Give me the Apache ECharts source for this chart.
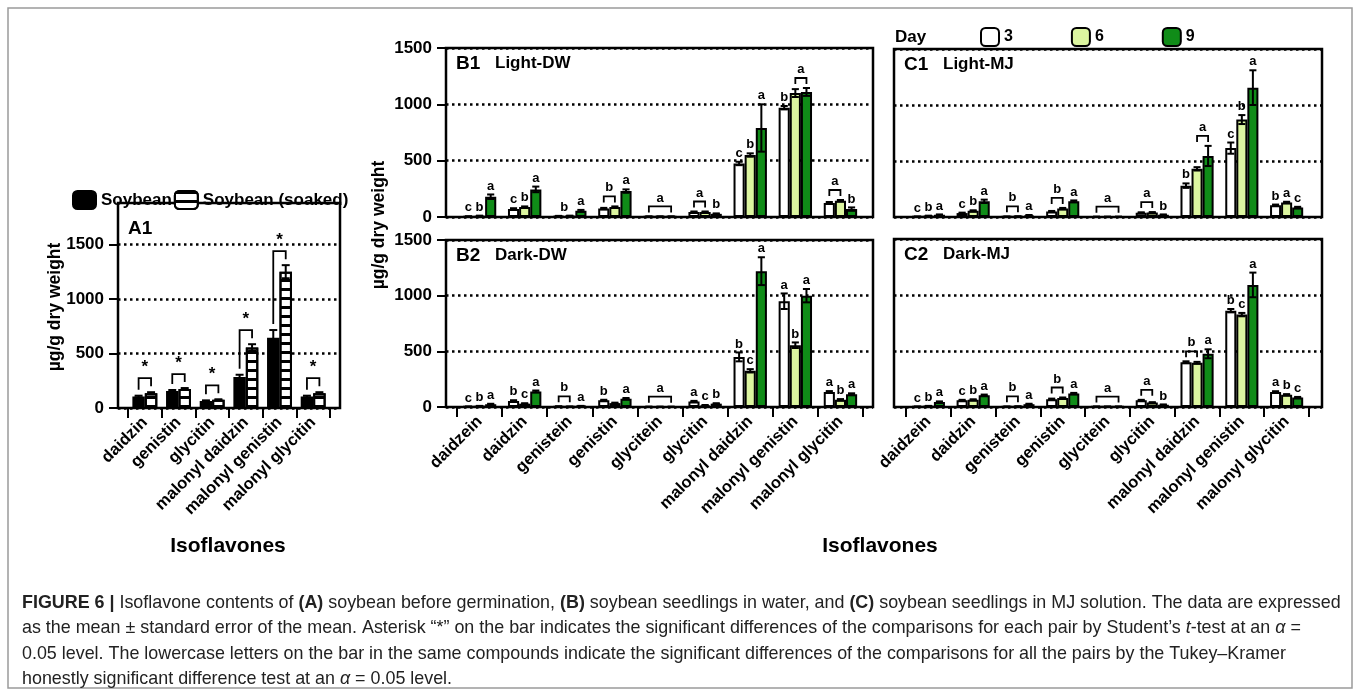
<!DOCTYPE html>
<html>
<head>
<meta charset="utf-8">
<script src="https://cdn.jsdelivr.net/npm/echarts@6/dist/echarts.min.js"></script>
<style>
  html, body { margin: 0; padding: 0; background: #fff; }
  #chart { width: 1360px; height: 695px; }
</style>
</head>
<body>
<div id="chart"></div>
<script>
// ---- data ----
var catsA = ['daidzin', 'genistin', 'glycitin', 'malonyl daidzin', 'malonyl genistin', 'malonyl glycitin'];
var soybean = [105, 155, 65, 285, 645, 105];
var soybeanErr = [8, 10, 5, 20, 70, 8];
var soaked = [135, 175, 75, 555, 1250, 135];
var soakedErr = [10, 8, 5, 30, 60, 10];
var sigA = [1, 1, 1, 1, 1, 1];

var catsB = ['daidzein', 'daidzin', 'genistein', 'genistin', 'glycitein', 'glycitin',
  'malonyl daidzin', 'malonyl genistin', 'malonyl glycitin'];
var days = ['3', '6', '9'];
var yTicks = [0, 500, 1000, 1500];

// B1 Light-DW
var b1Day3 = [5, 70, 8, 75, 4, 45, 475, 970, 125];
var b1Day6 = [10, 88, 10, 88, 4, 45, 550, 1100, 145];
var b1Day9 = [180, 245, 55, 230, 4, 28, 790, 1110, 70];
var b1Err3 = [1, 8, 2, 6, 1, 4, 15, 15, 8];
var b1Err6 = [2, 6, 2, 6, 1, 4, 15, 35, 6];
var b1Err9 = [20, 25, 8, 15, 1, 4, 210, 35, 15];
// B2 Dark-DW
var b2Day3 = [3, 55, 5, 60, 2, 50, 450, 950, 135];
var b2Day6 = [8, 30, 3, 35, 2, 15, 325, 555, 65];
var b2Day9 = [25, 140, 8, 75, 2, 30, 1220, 1000, 115];
var b2Err3 = [1, 6, 1, 5, 1, 5, 40, 70, 8];
var b2Err6 = [2, 4, 1, 4, 1, 3, 15, 25, 6];
var b2Err9 = [4, 8, 2, 6, 1, 4, 125, 60, 8];
// C1 Light-MJ
var c1Day3 = [3, 35, 3, 50, 2, 38, 280, 615, 105];
var c1Day6 = [10, 55, 5, 75, 2, 40, 430, 870, 130];
var c1Day9 = [20, 140, 15, 140, 2, 20, 545, 1155, 85];
var c1Err3 = [1, 4, 1, 4, 1, 4, 20, 50, 6];
var c1Err6 = [2, 5, 1, 6, 1, 4, 15, 40, 6];
var c1Err9 = [3, 15, 3, 8, 1, 3, 90, 155, 6];
// C2 Dark-MJ
var c2Day3 = [3, 60, 3, 70, 3, 60, 400, 860, 135];
var c2Day6 = [8, 65, 5, 80, 3, 40, 395, 825, 110];
var c2Day9 = [45, 105, 25, 120, 3, 20, 475, 1090, 85];
var c2Err3 = [1, 4, 1, 5, 1, 4, 8, 15, 6];
var c2Err6 = [2, 4, 1, 5, 1, 3, 8, 15, 5];
var c2Err9 = [5, 6, 4, 6, 1, 3, 40, 110, 5];

// Tukey letters per compound, one char per day; uppercase runs = bracketed group, '-' = none
var b1Letters = ['cba', 'cba', 'bba', 'BBa', 'AAA', 'AAb', 'cba', 'bAA', 'AAb'];
var b2Letters = ['cba', 'bca', 'BBa', 'b-a', 'AAA', 'acb', 'bca', 'aba', 'aba'];
var c1Letters = ['cba', 'cba', 'BBa', 'BBa', 'AAA', 'AAb', 'bAA', 'cba', 'bac'];
var c2Letters = ['cba', 'cba', 'BBa', 'BBa', 'AAA', 'AAb', 'BBa', 'bca', 'abc'];

// ---- chart ----
var FONT = "'Liberation Sans', Arial, sans-serif";
var GAP = 0.26;
var dayColors = ['#ffffff', '#dcf5a0', '#108c18'];
var dotted = { type: [2.5, 3.5], width: 2.5, color: '#000' };

var grid = [], xAxis = [], yAxis = [], series = [], graphic = [];

function parseLetters(codes) {
  var out = [];
  codes.forEach(function (code, cat) {
    var i = 0;
    while (i < code.length) {
      var ch = code[i], j = i;
      while (j + 1 < code.length && code[j + 1] === ch) j++;
      if (ch !== '-') {
        out.push({ cat: cat, from: i, to: j, text: ch.toLowerCase(), bracket: ch !== ch.toLowerCase() });
      }
      i = j + 1;
    }
  });
  return out;
}

function errRender(n) {
  return function (params, api) {
    var c = api.value(0), v = api.value(1), e = api.value(2), s = api.value(3);
    var bw = api.size([1, 0])[0] * (1 - GAP) / n;
    var cx = api.coord([c, 0])[0] + (s - (n - 1) / 2) * bw;
    var yHi = api.coord([c, v + e])[1];
    var yLo = api.coord([c, Math.max(v - e, 0)])[1];
    var cap = bw * 0.32;
    var st = { stroke: '#000', lineWidth: 2 };
    return {
      type: 'group', children: [
        { type: 'line', shape: { x1: cx, y1: yHi, x2: cx, y2: yLo }, style: st },
        { type: 'line', shape: { x1: cx - cap, y1: yHi, x2: cx + cap, y2: yHi }, style: st },
        { type: 'line', shape: { x1: cx - cap, y1: yLo, x2: cx + cap, y2: yLo }, style: st }
      ]
    };
  };
}

function annRender(vals, errs, anns, n, font, legsToBars) {
  return function (params, api) {
    var a = anns[params.dataIndex];
    var bw = api.size([1, 0])[0] * (1 - GAP) / n;
    var c0 = api.coord([a.cat, 0])[0];
    var bx = function (s) { return c0 + (s - (n - 1) / 2) * bw; };
    var top = function (s) { return api.coord([a.cat, vals[s][a.cat] + errs[s][a.cat]])[1]; };
    var yTop = Infinity;
    for (var s = a.from; s <= a.to; s++) yTop = Math.min(yTop, top(s));
    var x1 = bx(a.from), x2 = bx(a.to), ty = yTop - 2;
    var kids = [];
    if (a.bracket) {
      var by = yTop - (legsToBars ? 14 : 10);
      var l1 = legsToBars ? Math.max(top(a.from) - 6, by + 5) : by + 6;
      var l2 = legsToBars ? Math.max(top(a.to) - 6, by + 5) : by + 6;
      kids.push({ type: 'polyline', shape: { points: [[x1, l1], [x1, by], [x2, by], [x2, l2]] },
        style: { stroke: '#000', lineWidth: 1.8, fill: null } });
      ty = by - 2;
    }
    kids.push({
      type: 'text', x: (x1 + x2) / 2, y: ty,
      style: { text: a.text, font: font, fill: '#000', align: 'center', verticalAlign: 'bottom' }
    });
    return { type: 'group', children: kids };
  };
}

function addFrame(f, yMax, showY) {
  var gi = grid.length;
  grid.push({ left: f[0], top: f[1], width: f[2], height: f[3], show: true,
    borderColor: '#000', borderWidth: 2.5, backgroundColor: '#fff' });
  xAxis.push({ gridIndex: gi, type: 'value', show: false, min: 0, max: 1 });
  yAxis.push({
    gridIndex: gi, type: 'value', min: 0, max: yMax, interval: 500,
    axisLine: { show: false },
    axisTick: { show: showY, length: 9, lineStyle: { color: '#000', width: 2 }, customValues: yTicks },
    axisLabel: { show: showY, margin: 14, color: '#000', fontFamily: FONT, fontWeight: 'bold', fontSize: 17,
      customValues: yTicks, formatter: function (v) { return String(v); } },
    splitLine: { show: true, lineStyle: dotted }
  });
}

function addInner(f, inner, cats, yMax, showX) {
  var gi = grid.length;
  grid.push({ left: inner[0], top: f[1], width: inner[1], height: f[3] });
  xAxis.push({
    gridIndex: gi, type: 'category', data: cats,
    axisLine: { show: false, onZero: false },
    axisTick: { show: showX, length: 10, interval: 0, lineStyle: { color: '#000', width: 2 } },
    axisLabel: { show: showX, interval: 0, rotate: 45, margin: 12, color: '#000',
      fontFamily: FONT, fontWeight: 'bold', fontSize: 16.5 }
  });
  yAxis.push({ gridIndex: gi, type: 'value', min: 0, max: yMax, show: false, splitLine: { show: false } });
  return gi;
}

function addTitle(x, y, big, small, smallX) {
  graphic.push({ type: 'text', x: x, y: y,
    style: { text: big, font: 'bold 19px ' + FONT, fill: '#000', align: 'left', verticalAlign: 'middle' } });
  if (small) {
    graphic.push({ type: 'text', x: smallX, y: y,
      style: { text: small, font: 'bold 17px ' + FONT, fill: '#000', align: 'left', verticalAlign: 'middle' } });
  }
}

// ---- panel A1 ----
var fA = [118, 203, 222, 205];
var maxA = 1880;
addFrame(fA, maxA, true);
var giA = addInner(fA, [128, 202], catsA, maxA, true);
series.push({
  name: 'Soybean', type: 'bar', xAxisIndex: giA, yAxisIndex: giA, data: soybean,
  barGap: '0%', barCategoryGap: '26%',
  itemStyle: { color: '#000', borderColor: '#000', borderWidth: 2 }
});
series.push({
  name: 'Soybean (soaked)', type: 'bar', xAxisIndex: giA, yAxisIndex: giA, data: soaked,
  barGap: '0%', barCategoryGap: '26%',
  itemStyle: {
    color: '#fff', borderColor: '#000', borderWidth: 2,
    decal: { symbol: 'rect', symbolSize: 1, color: '#000', dashArrayX: [1, 0], dashArrayY: [2.5, 5.5], rotation: 0 }
  }
});
var errA = [];
catsA.forEach(function (c, i) {
  errA.push([i, soybean[i], soybeanErr[i], 0]);
  errA.push([i, soaked[i], soakedErr[i], 1]);
});
series.push({ type: 'custom', xAxisIndex: giA, yAxisIndex: giA, renderItem: errRender(2), data: errA, z: 5, silent: true });
var annA = [];
sigA.forEach(function (v, i) { if (v) annA.push({ cat: i, from: 0, to: 1, text: '*', bracket: true }); });
series.push({
  type: 'custom', xAxisIndex: giA, yAxisIndex: giA,
  renderItem: annRender([soybean, soaked], [soybeanErr, soakedErr], annA, 2, 'bold 17px ' + FONT, true),
  data: annA.map(function (a) { return [a.cat, 0]; }), z: 6, silent: true
});
addTitle(128, 229, 'A1');

// ---- panels B and C ----
var panels = [
  { big: 'B1', small: 'Light-DW', f: [446, 48, 427, 169], inner: [457, 406], showY: true, showX: false,
    vals: [b1Day3, b1Day6, b1Day9], errs: [b1Err3, b1Err6, b1Err9], letters: b1Letters },
  { big: 'B2', small: 'Dark-DW', f: [446, 240, 427, 167], inner: [457, 406], showY: true, showX: true,
    vals: [b2Day3, b2Day6, b2Day9], errs: [b2Err3, b2Err6, b2Err9], letters: b2Letters },
  { big: 'C1', small: 'Light-MJ', f: [894, 49, 428, 168], inner: [906, 403], showY: false, showX: false,
    vals: [c1Day3, c1Day6, c1Day9], errs: [c1Err3, c1Err6, c1Err9], letters: c1Letters },
  { big: 'C2', small: 'Dark-MJ', f: [894, 239, 428, 168], inner: [906, 403], showY: false, showX: true,
    vals: [c2Day3, c2Day6, c2Day9], errs: [c2Err3, c2Err6, c2Err9], letters: c2Letters }
];

panels.forEach(function (p) {
  addFrame(p.f, 1500, p.showY);
  var gi = addInner(p.f, p.inner, catsB, 1500, p.showX);
  var errData = [];
  days.forEach(function (d, s) {
    series.push({
      name: d, type: 'bar', xAxisIndex: gi, yAxisIndex: gi, data: p.vals[s],
      barGap: '0%', barCategoryGap: '26%',
      itemStyle: { color: dayColors[s], borderColor: '#000', borderWidth: 2 }
    });
    catsB.forEach(function (c, i) { errData.push([i, p.vals[s][i], p.errs[s][i], s]); });
  });
  series.push({ type: 'custom', xAxisIndex: gi, yAxisIndex: gi, renderItem: errRender(3), data: errData, z: 5, silent: true });
  var anns = parseLetters(p.letters);
  series.push({
    type: 'custom', xAxisIndex: gi, yAxisIndex: gi,
    renderItem: annRender(p.vals, p.errs, anns, 3, 'bold 13px ' + FONT, false),
    data: anns.map(function (a) { return [a.cat, 0]; }), z: 6, silent: true
  });
  addTitle(p.f[0] + 10, p.f[1] + 15.5, p.big, p.small, p.f[0] + 49);
});

// ---- axis titles, legend label, caption, frame ----
var boldText = function (x, y, text, size, rot) {
  graphic.push({ type: 'text', x: x, y: y, rotation: rot || 0,
    style: { text: text, font: 'bold ' + size + 'px ' + FONT, fill: '#000', align: 'center', verticalAlign: 'middle' } });
};
boldText(55, 307, '\u00b5g/g dry weight', 17.5, Math.PI / 2);
boldText(379, 225, '\u00b5g/g dry weight', 17.5, Math.PI / 2);
boldText(228, 546, 'Isoflavones', 21);
boldText(880, 546, 'Isoflavones', 21);
graphic.push({ type: 'text', x: 895, y: 37,
  style: { text: 'Day', font: 'bold 17px ' + FONT, fill: '#000', align: 'left', verticalAlign: 'middle' } });

var caption = [
  '{b|FIGURE 6 |} Isoflavone contents of {b|(A)} soybean before germination, {b|(B)} soybean seedlings in water, and {b|(C)} soybean seedlings in MJ solution. The data are expressed',
  'as the mean \u00b1 standard error of the mean. Asterisk \u201c*\u201d on the bar indicates the significant differences of the comparisons for each pair by Student\u2019s {i|t}-test at an {i|\u03b1} =',
  '0.05 level. The lowercase letters on the bar in the same compounds indicate the significant differences of the comparisons for all the pairs by the Tukey\u2013Kramer',
  'honestly significant difference test at an {i|\u03b1} = 0.05 level.'
];
var capSize = 17.9;
caption.forEach(function (line, k) {
  graphic.push({ type: 'text', x: 22, y: 603 + k * 25.5,
    style: { text: line, fontFamily: FONT, fontSize: capSize, fill: '#222', align: 'left', verticalAlign: 'middle',
      rich: { b: { fontWeight: 'bold', fontFamily: FONT, fontSize: capSize, fill: '#222' },
              i: { fontStyle: 'italic', fontFamily: FONT, fontSize: capSize, fill: '#222' } } } });
});
graphic.push({ type: 'rect', shape: { x: 8, y: 8, width: 1344, height: 680 },
  style: { fill: null, stroke: '#9b9b9b', lineWidth: 1.5 }, z: -1 });

var option = {
  animation: false,
  backgroundColor: '#fff',
  legend: [
    { data: ['Soybean', 'Soybean (soaked)'], left: 72, top: 190, padding: 0, itemWidth: 23, itemHeight: 18,
      itemGap: 2, icon: 'roundRect', selectedMode: false,
      textStyle: { fontFamily: FONT, fontWeight: 'bold', fontSize: 17, color: '#000' } },
    { data: days, left: 980, top: 27, padding: 0, itemWidth: 18, itemHeight: 18, itemGap: 58,
      icon: 'roundRect', selectedMode: false,
      textStyle: { fontFamily: FONT, fontWeight: 'bold', fontSize: 16, color: '#000' } }
  ],
  grid: grid,
  xAxis: xAxis,
  yAxis: yAxis,
  series: series,
  graphic: graphic
};

var chart = echarts.init(document.getElementById('chart'));
chart.setOption(option);
</script>
</body>
</html>
